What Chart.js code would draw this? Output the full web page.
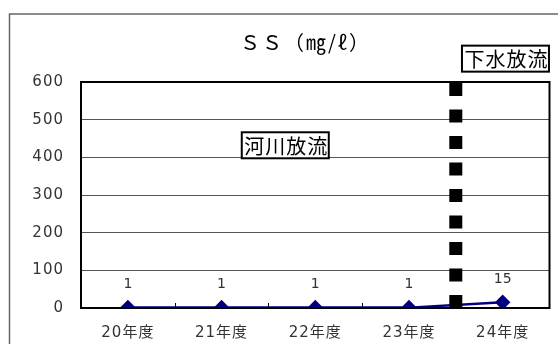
<!DOCTYPE html>
<html>
<head>
<meta charset="utf-8">
<script src="https://cdn.jsdelivr.net/npm/chart.js@4"></script>
<style>
  html, body { margin: 0; padding: 0; background: #fff; }
  #wrap { width: 558px; height: 344px; }
</style>
</head>
<body>
<div id="wrap"><canvas id="ssChart" width="558" height="344"></canvas></div>
<script>
const years = ['20年度', '21年度', '22年度', '23年度', '24年度'];
const ssValues = [1, 1, 1, 1, 15];
const yTicks = [0, 100, 200, 300, 400, 500, 600];
const titleText = 'ＳＳ（㎎/ℓ）';
const jpFont = '"Noto Sans CJK JP", "Noto Sans", sans-serif';
const numFont = '"DejaVu Sans", "Noto Sans CJK JP", sans-serif';

// outer frame (runs off the canvas like the original crop)
const frame = { x: 9.5, y: 14, w: 590, h: 400 };

// frame, title, dashed divider, boxed notes and value labels
const extras = {
    id: 'extras',
    beforeDraw(chart) {
        const c = chart.ctx;
        c.save();
        c.strokeStyle = '#666';
        c.lineWidth = 1.5;
        c.strokeRect(frame.x, frame.y, frame.w, frame.h);

        c.fillStyle = '#000';
        c.font = '20px ' + jpFont;
        c.letterSpacing = '2px';
        c.textAlign = 'center';
        c.textBaseline = 'middle';
        c.fillText(titleText, frame.x + frame.w / 2 + 1, 42);
        c.restore();
        c.letterSpacing = '1px';   // wide tick text like the original
    },
    afterDatasetsDraw(chart) {
        const c = chart.ctx;
        const a = chart.chartArea;
        const xs = chart.scales.x;
        const ys = chart.scales.y;
        c.save();
        c.letterSpacing = '0px';

        // plot border
        c.strokeStyle = '#000';
        c.lineWidth = 2;
        c.strokeRect(a.left, a.top, a.right - a.left, a.bottom - a.top);

        // small ticks between categories
        c.lineWidth = 1;
        for (let i = 1; i < years.length - 1; i++) {
            const bx = (xs.getPixelForValue(i - 1) + xs.getPixelForValue(i)) / 2;
            c.beginPath();
            c.moveTo(Math.round(bx) + 0.5, a.bottom);
            c.lineTo(Math.round(bx) + 0.5, a.bottom - 5);
            c.stroke();
        }

        // dashed divider between 23 and 24
        const dx = (xs.getPixelForValue(3) + xs.getPixelForValue(4)) / 2;
        c.strokeStyle = '#000';
        c.lineWidth = 13;
        c.setLineDash([13, 13.5]);
        c.beginPath();
        c.moveTo(dx, a.top + 1);
        c.lineTo(dx, a.bottom);
        c.stroke();
        c.setLineDash([]);

        // value labels
        c.fillStyle = '#333';
        c.font = '14px ' + numFont;
        c.textAlign = 'center';
        c.textBaseline = 'middle';
        ssValues.forEach((v, i) => {
            c.fillText(String(v), xs.getPixelForValue(i), ys.getPixelForValue(v) - 23);
        });

        // boxed notes
        const note = (text, cx, cy) => {
            c.font = '20px ' + jpFont;
            c.letterSpacing = '1px';
            const w = c.measureText(text).width + 3;
            const h = 26;
            c.fillStyle = '#fff';
            c.fillRect(cx - w / 2, cy - h / 2, w, h);
            c.strokeStyle = '#000';
            c.lineWidth = 2;
            c.strokeRect(cx - w / 2, cy - h / 2, w, h);
            c.fillStyle = '#000';
            c.fillText(text, cx + 1, cy + 1);
        };
        note('河川放流', xs.getPixelForValue(1.68), ys.getPixelForValue(432));
        note('下水放流', xs.getPixelForValue(4.03), ys.getPixelForValue(662));

        c.restore();
    },
    afterDraw(chart) {
        chart.ctx.letterSpacing = '0px';
    }
};

const ctx = document.getElementById('ssChart').getContext('2d');
const ssChart = new Chart(ctx, {
    type: 'line',
    data: {
        labels: years,
        datasets: [{
            label: 'SS',
            data: ssValues,
            borderColor: '#000080',
            backgroundColor: '#000080',
            borderWidth: 2.5,
            pointStyle: 'rectRot',
            pointRadius: 6,
            pointHoverRadius: 6,
            tension: 0
        }]
    },
    options: {
        responsive: false,
        animation: false,
        layout: { padding: { left: 0, right: 7, top: 82, bottom: 0 } },
        plugins: {
            legend: { display: false },
            tooltip: { enabled: false },
            title: { display: false }
        },
        scales: {
            x: {
                offset: true,
                grid: { display: false },
                border: { display: false },
                ticks: {
                    color: '#333',
                    font: { size: 15, family: numFont },
                    padding: 8,
                    maxRotation: 0
                },
                afterFit: s => { s.height = 36; }
            },
            y: {
                min: 0,
                max: 600,
                afterBuildTicks: s => { s.ticks = yTicks.map(v => ({ value: v })); },
                grid: {
                    drawTicks: false,
                    color: ctx => (ctx.tick && (ctx.tick.value === 0 || ctx.tick.value === 600)) ? 'rgba(0,0,0,0)' : '#555',
                    lineWidth: 1
                },
                border: { display: false },
                ticks: {
                    color: '#333',
                    font: { size: 15, family: numFont },
                    padding: 17
                },
                afterFit: s => { s.width = 81; }
            }
        }
    },
    plugins: [extras]
});
</script>
</body>
</html>
